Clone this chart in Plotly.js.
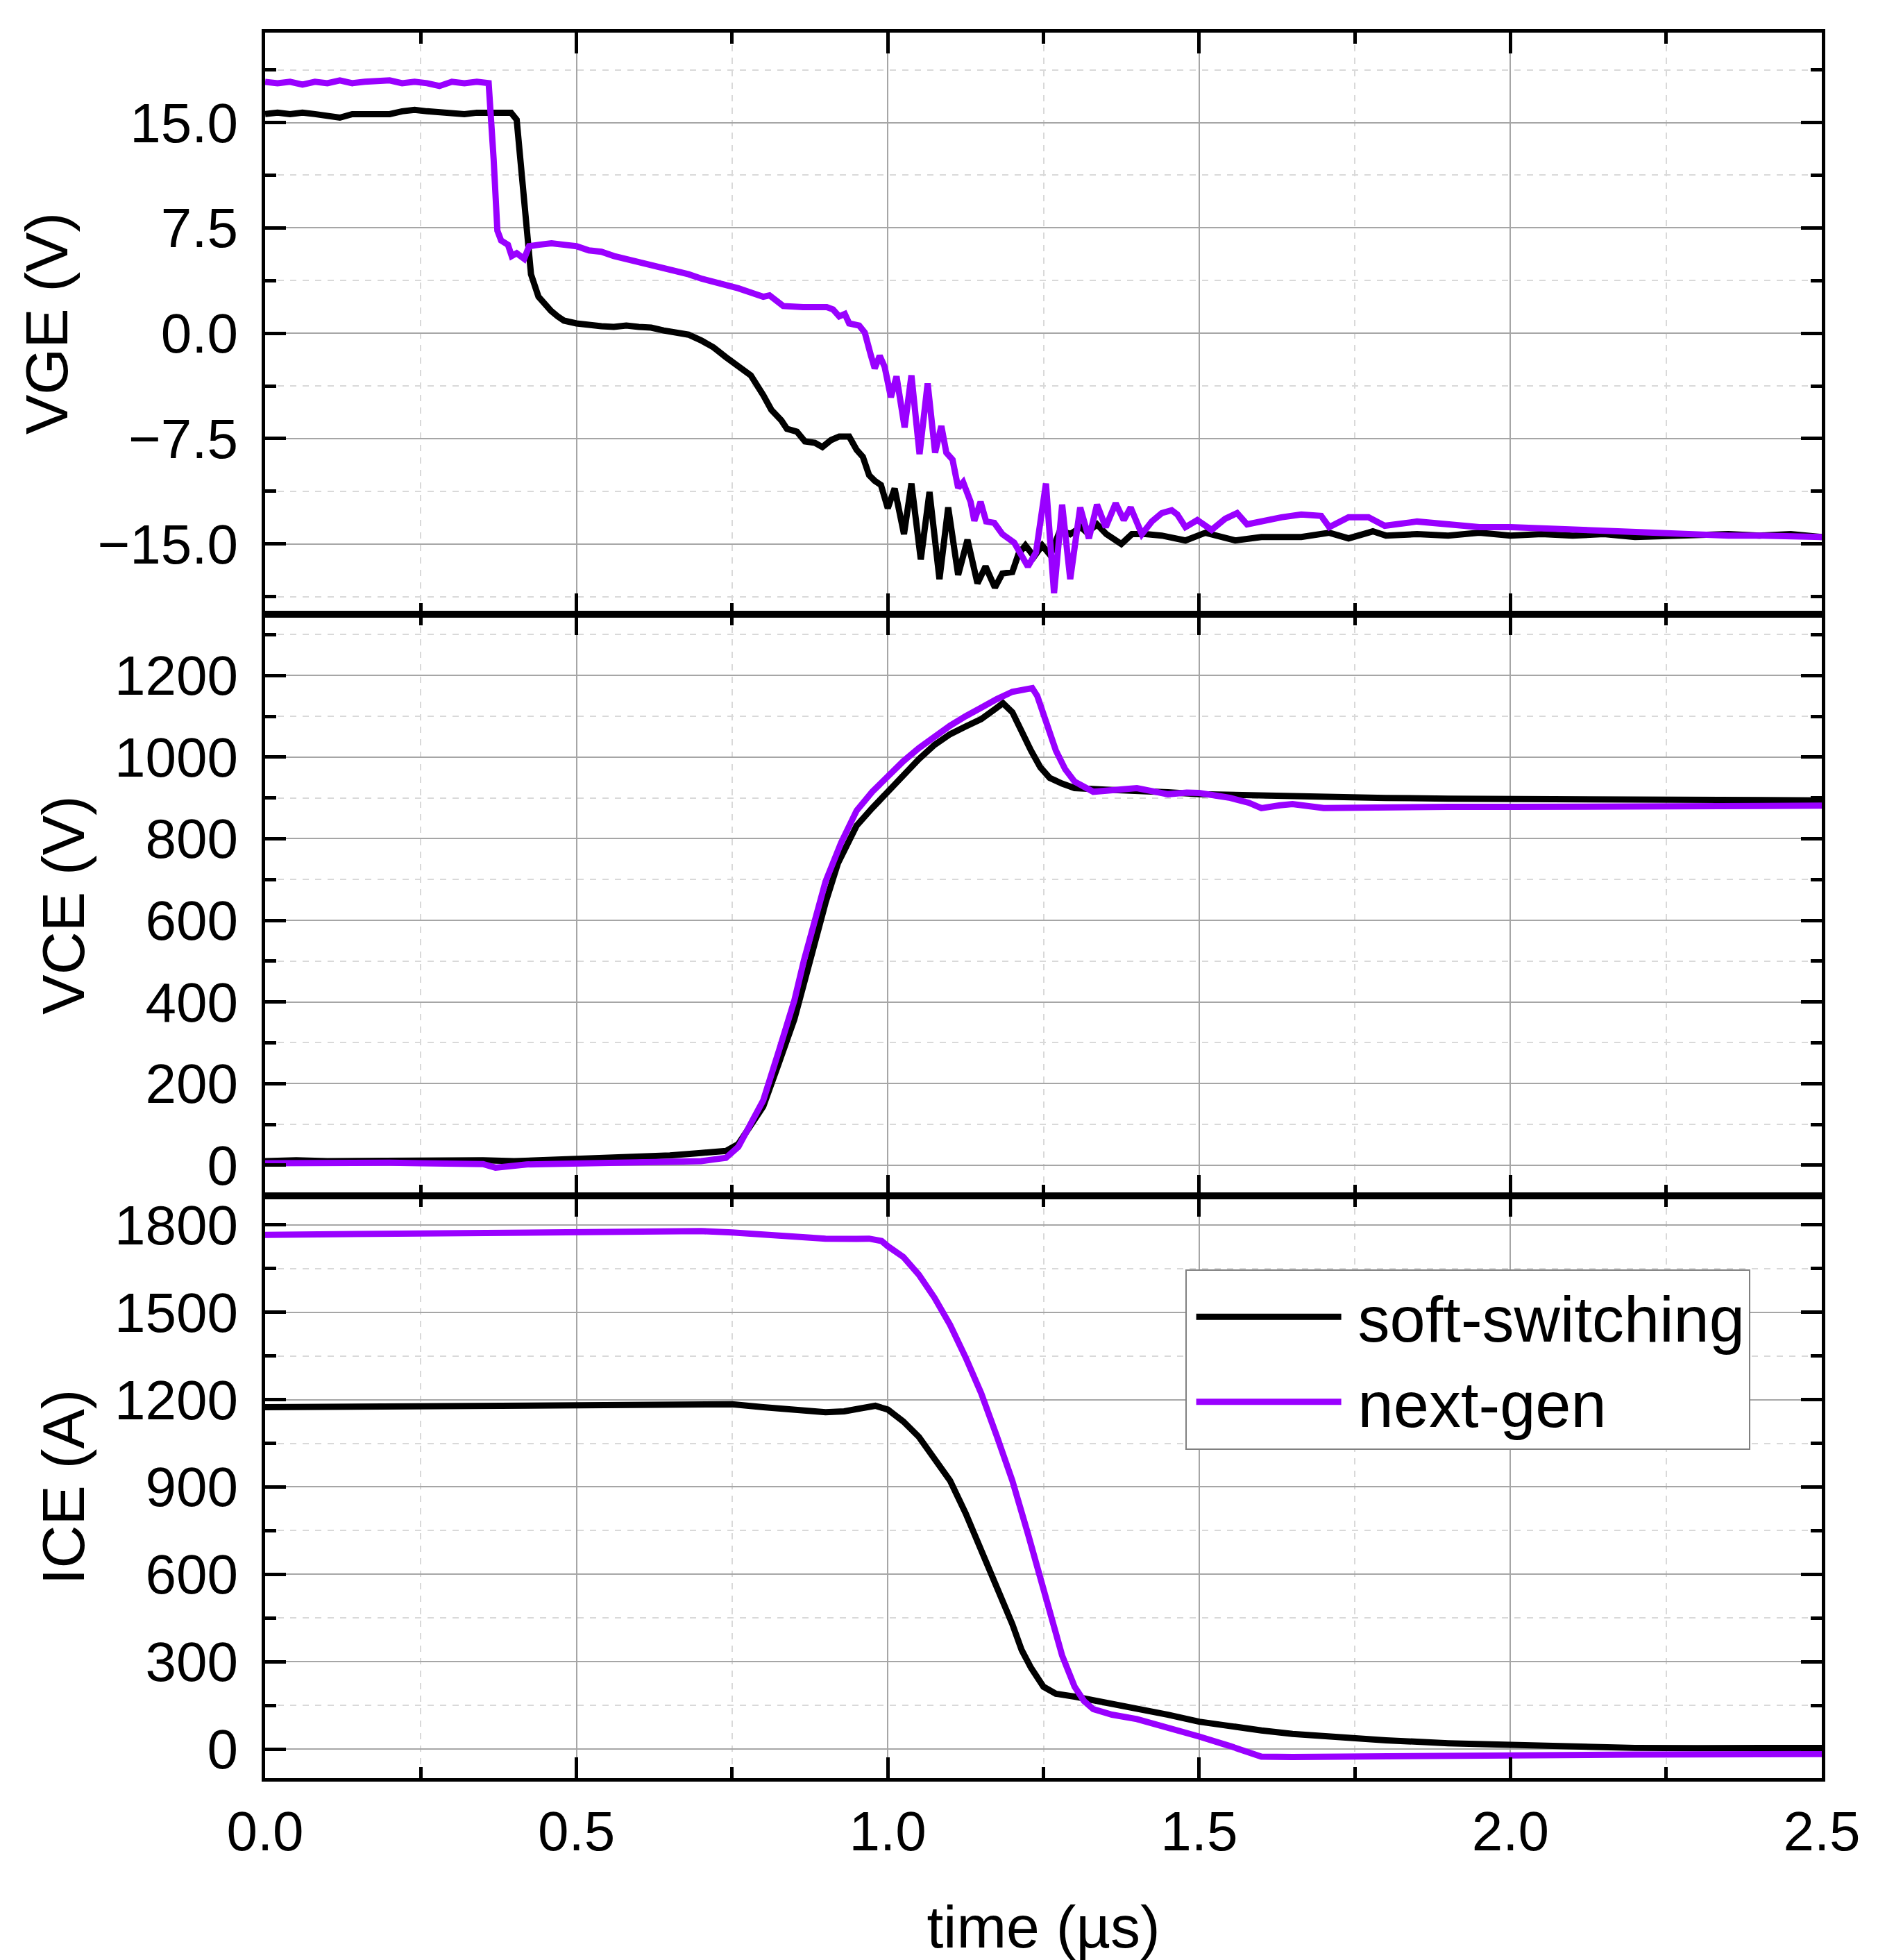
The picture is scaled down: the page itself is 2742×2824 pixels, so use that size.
<!DOCTYPE html>
<html>
<head>
<meta charset="utf-8">
<script src="https://cdn.plot.ly/plotly-3.0.1.min.js"></script>
<style>html,body{margin:0;padding:0;background:#fff;}</style>
</head>
<body>
<div id="chart" style="width:2742px;height:2824px;"></div>
<script>
// ---------- DATA ----------
const seriesNames = ["soft-switching", "next-gen"];

// VGE (V) - soft-switching
const tVgeSoft = [0.00,0.02,0.04,0.06,0.08,0.10,0.12,0.14,0.16,0.18,0.20,0.22,0.24,0.26,0.28,0.30,0.32,0.34,0.36,0.38,0.395,0.404,0.41,0.416,0.421,0.427,0.439,0.450,0.459,0.47,0.48,0.50,0.52,0.54,0.56,0.58,0.60,0.62,0.64,0.66,0.68,0.70,0.72,0.74,0.76,0.78,0.80,0.813,0.829,0.838,0.854,0.867,0.883,0.895,0.909,0.922,0.938,0.95,0.96,0.97,0.979,0.989,1.000,1.011,1.026,1.038,1.053,1.067,1.083,1.097,1.113,1.128,1.144,1.157,1.172,1.184,1.200,1.210,1.221,1.235,1.248,1.261,1.277,1.293,1.310,1.320,1.336,1.351,1.375,1.392,1.414,1.44,1.478,1.51,1.558,1.60,1.664,1.709,1.74,1.779,1.80,1.85,1.90,1.95,2.00,2.05,2.10,2.15,2.20,2.25,2.30,2.35,2.40,2.45,2.50];
const vgeSoft  = [15.6,15.7,15.6,15.7,15.6,15.5,15.35,15.6,15.6,15.7,15.6,15.8,15.9,15.8,15.7,15.6,15.6,15.7,15.7,15.8,15.7,15.2,12.4,9.0,6.2,4.2,2.6,2.0,1.6,1.2,0.9,0.7,0.55,0.5,0.45,0.55,0.45,0.4,0.2,0.1,-0.1,-0.5,-1.0,-1.7,-2.4,-3.0,-4.4,-5.45,-6.2,-6.8,-7.0,-7.7,-7.8,-8.1,-7.6,-7.35,-7.35,-8.3,-8.8,-10.1,-10.5,-10.8,-12.45,-11.05,-14.3,-10.7,-16.1,-11.3,-17.5,-12.4,-17.2,-14.7,-17.8,-16.6,-18.1,-17.1,-17.0,-15.7,-15.1,-15.9,-15.1,-15.8,-14.0,-14.3,-13.8,-14.2,-13.6,-14.3,-15.0,-14.3,-14.3,-14.4,-14.75,-14.2,-14.75,-14.5,-14.5,-14.2,-14.6,-14.1,-14.4,-14.3,-14.4,-14.2,-14.4,-14.3,-14.4,-14.3,-14.5,-14.4,-14.4,-14.3,-14.4,-14.3,-14.5];

// VGE (V) - next-gen
const tVgeNext = [0.00,0.02,0.04,0.06,0.08,0.10,0.12,0.14,0.16,0.18,0.20,0.22,0.24,0.26,0.28,0.30,0.32,0.34,0.355,0.359,0.367,0.373,0.379,0.39,0.396,0.404,0.416,0.424,0.44,0.46,0.48,0.50,0.52,0.54,0.56,0.58,0.60,0.62,0.64,0.66,0.68,0.70,0.72,0.74,0.76,0.78,0.80,0.81,0.832,0.864,0.902,0.912,0.922,0.931,0.938,0.954,0.963,0.973,0.979,0.987,0.995,1.005,1.014,1.027,1.038,1.051,1.064,1.076,1.086,1.094,1.104,1.113,1.121,1.133,1.139,1.149,1.158,1.171,1.184,1.203,1.216,1.225,1.238,1.254,1.267,1.280,1.293,1.309,1.323,1.336,1.350,1.366,1.379,1.390,1.408,1.424,1.440,1.456,1.465,1.478,1.497,1.520,1.542,1.561,1.577,1.606,1.632,1.664,1.696,1.709,1.740,1.772,1.798,1.85,1.90,1.95,2.00,2.05,2.10,2.15,2.20,2.25,2.30,2.35,2.40,2.45,2.50];
const vgeNext  = [17.9,17.8,17.9,17.7,17.9,17.8,18.0,17.8,17.9,17.9,18.0,17.8,17.9,17.8,17.6,17.9,17.8,17.9,17.9,17.8,12.4,7.3,6.6,6.3,5.5,5.7,5.3,6.2,6.3,6.4,6.3,6.2,5.9,5.8,5.5,5.3,5.0,4.9,4.6,4.5,4.2,3.9,3.7,3.5,3.2,2.9,2.6,2.7,1.94,1.86,1.86,1.7,1.2,1.37,0.7,0.55,0.05,-1.6,-2.5,-1.6,-2.4,-4.55,-3.07,-6.7,-3.0,-8.6,-3.57,-8.5,-6.6,-8.5,-9.0,-11.0,-10.6,-12.0,-13.35,-12.0,-13.4,-13.5,-14.3,-14.9,-15.8,-16.6,-15.6,-10.7,-18.5,-12.2,-17.5,-12.4,-14.6,-12.2,-13.8,-12.1,-13.3,-12.4,-14.3,-13.4,-12.8,-12.6,-12.9,-13.8,-13.3,-14.0,-13.2,-12.8,-13.6,-13.3,-13.1,-12.9,-13.0,-13.8,-13.1,-13.1,-13.7,-13.4,-13.6,-13.8,-13.8,-13.9,-14.0,-14.1,-14.1,-14.3,-14.3,-14.4,-14.4,-14.5,-14.5];

// VCE (V) - soft-switching
const tVceSoft = [0.00,0.05,0.10,0.15,0.20,0.25,0.30,0.35,0.40,0.45,0.50,0.55,0.60,0.65,0.70,0.72,0.74,0.76,0.78,0.80,0.825,0.85,0.875,0.90,0.92,0.95,0.975,1.00,1.025,1.05,1.075,1.10,1.125,1.15,1.17,1.185,1.20,1.215,1.23,1.245,1.26,1.28,1.30,1.35,1.40,1.45,1.50,1.55,1.60,1.70,1.80,1.90,2.00,2.10,2.20,2.30,2.40,2.50];
const vceSoft  = [10,12,10,11,12,10,11,12,10,13,15,17,20,24,30,32,35,52,95,144,250,358,500,643,740,832,875,915,960,995,1030,1056,1075,1093,1115,1132,1110,1060,1016,975,949,935,924,920,918,914,909,907,905,903,900,898,897,896,896,895,895,894];

// VCE (V) - next-gen
const tVceNext = [0.00,0.05,0.10,0.15,0.20,0.25,0.30,0.35,0.37,0.39,0.42,0.45,0.50,0.55,0.60,0.65,0.70,0.72,0.74,0.76,0.78,0.80,0.825,0.85,0.865,0.88,0.90,0.925,0.95,0.975,1.00,1.025,1.05,1.075,1.10,1.125,1.15,1.175,1.20,1.22,1.232,1.24,1.255,1.27,1.285,1.30,1.33,1.36,1.40,1.43,1.45,1.48,1.50,1.53,1.55,1.58,1.60,1.63,1.65,1.70,1.75,1.80,1.90,2.00,2.10,2.20,2.30,2.40,2.50];
const vceNext  = [5,6,4,5,6,5,4,3,-6,-2,2,3,4,5,6,7,10,14,18,45,100,159,280,404,500,588,695,790,869,915,955,990,1022,1050,1077,1100,1123,1142,1160,1166,1169,1150,1080,1016,970,940,915,918,924,915,909,913,912,905,900,888,875,882,885,875,876,878,878,878,879,880,880,881,881];

// ICE (A) - soft-switching
const tIceSoft = [0.00,0.10,0.20,0.30,0.40,0.50,0.60,0.70,0.75,0.80,0.85,0.90,0.93,0.96,0.98,1.00,1.025,1.05,1.075,1.10,1.125,1.15,1.175,1.20,1.215,1.23,1.25,1.27,1.30,1.35,1.40,1.45,1.50,1.55,1.60,1.65,1.70,1.75,1.80,1.90,2.00,2.10,2.20,2.30,2.40,2.50];
const iceSoft  = [1174,1176,1178,1180,1182,1183,1185,1187,1184,1174,1165,1157,1160,1172,1179,1166,1125,1072,1000,922,810,686,555,429,340,279,214,190,180,160,141,118,94,78,64,52,43,36,30,20,13,8,4,3,4,4];

// ICE (A) - next-gen
const tIceNext = [0.00,0.10,0.20,0.30,0.40,0.50,0.60,0.70,0.75,0.80,0.85,0.90,0.95,0.97,0.99,1.00,1.025,1.05,1.075,1.10,1.125,1.15,1.175,1.20,1.225,1.25,1.265,1.28,1.30,1.315,1.33,1.36,1.40,1.45,1.50,1.55,1.58,1.60,1.65,1.70,1.80,1.90,2.00,2.20,2.40,2.50];
const iceNext  = [1766,1768,1770,1771,1772,1774,1776,1779,1774,1766,1758,1753,1752,1753,1745,1727,1690,1629,1550,1457,1345,1222,1075,922,740,557,430,321,214,165,137,118,103,75,43,10,-15,-26,-27,-26,-25,-23,-21,-19,-18,-17];

// Tick labels / axis titles
const xTitle = "time (µs)";
const yTitles = ["VGE (V)", "VCE (V)", "ICE (A)"];

// ---------- STYLE ----------
const colSoft = "#000000";
const colNext = "#9900ff";
const lw = 9;
const FONT = "Liberation Sans, Arial, Helvetica, sans-serif";

function tr(x, y, name, color, xa, ya, show) {
  return {x: x, y: y, name: name, type: "scatter", mode: "lines",
          line: {color: color, width: lw}, xaxis: xa, yaxis: ya,
          showlegend: show, legendgroup: name};
}

const data = [
  tr(tVgeSoft, vgeSoft, seriesNames[0], colSoft, "x3", "y3", false),
  tr(tVgeNext, vgeNext, seriesNames[1], colNext, "x3", "y3", false),
  tr(tVceSoft, vceSoft, seriesNames[0], colSoft, "x2", "y2", false),
  tr(tVceNext, vceNext, seriesNames[1], colNext, "x2", "y2", false),
  tr(tIceSoft, iceSoft, seriesNames[0], colSoft, "x", "y", true),
  tr(tIceNext, iceNext, seriesNames[1], colNext, "x", "y", true)
];

const axBase = {
  showline: true, linewidth: 5, linecolor: "#000", mirror: "ticks",
  ticks: "inside", ticklen: 30, tickwidth: 5, tickcolor: "#000",
  showgrid: true, gridcolor: "#a6a6a6", gridwidth: 2, zeroline: false,
  tickfont: {family: FONT, size: 80, color: "#000"},
  minor: {ticks: "inside", ticklen: 16, tickwidth: 5, tickcolor: "#000",
          showgrid: true, gridcolor: "#d9d9d9", gridwidth: 2, griddash: "dash"}
};
function ax(extra) { return Object.assign(JSON.parse(JSON.stringify(axBase)), extra); }

const titleFont = {family: FONT, size: 86, color: "#000"};

const layout = {
  width: 2742, height: 2824,
  margin: {l: 382, r: 117, t: 47, b: 262, pad: 0},
  paper_bgcolor: "#fff", plot_bgcolor: "#fff",
  font: {family: FONT, size: 80, color: "#000"},
  showlegend: true,
  legend: {x: 0.591, y: 0.2915, xanchor: "left", yanchor: "top",
           bgcolor: "#fff", bordercolor: "#808080", borderwidth: 2,
           font: {family: FONT, size: 92, color: "#000"},
           itemwidth: 237, tracegroupgap: 0},
  xaxis:  ax({anchor: "y",  range: [0, 2.5], dtick: 0.5, tick0: 0, tickformat: ".1f",
              minor: Object.assign({}, axBase.minor, {dtick: 0.25}),
              ticklabelstandoff: 3,
              title: {text: xTitle, font: titleFont, standoff: 125}}),
  xaxis2: ax({anchor: "y2", matches: "x", range: [0, 2.5], dtick: 0.5, tick0: 0, showticklabels: false,
              minor: Object.assign({}, axBase.minor, {dtick: 0.25})}),
  xaxis3: ax({anchor: "y3", matches: "x", range: [0, 2.5], dtick: 0.5, tick0: 0, showticklabels: false,
              minor: Object.assign({}, axBase.minor, {dtick: 0.25})}),
  yaxis:  ax({domain: [0, 0.3336], anchor: "x", range: [-100, 1900], dtick: 300, tick0: 0,
              minor: Object.assign({}, axBase.minor, {dtick: 150}),
              ticklabelstandoff: 18,
              title: {text: yTitles[2], font: titleFont, standoff: 16}}),
  yaxis2: ax({domain: [0.3336, 0.6668], anchor: "x2", range: [-75, 1350], dtick: 200, tick0: 0,
              minor: Object.assign({}, axBase.minor, {dtick: 100}),
              ticklabelstandoff: 18,
              title: {text: yTitles[1], font: titleFont, standoff: 16}}),
  yaxis3: ax({domain: [0.6668, 1], anchor: "x3", range: [-20, 21.4], dtick: 7.5, tick0: 0, tickformat: ".1f",
              minor: Object.assign({}, axBase.minor, {dtick: 3.75}),
              ticklabelstandoff: 18,
              title: {text: yTitles[0], font: titleFont, standoff: 16}})
};

Plotly.newPlot("chart", data, layout, {staticPlot: true, displayModeBar: false}).then(function (gd) {
  // shorten legend sample lines so that they sit like the reference (gap before text)
  try {
    gd.querySelectorAll(".legend path.js-line").forEach(function (p) {
      var d = p.getAttribute("d") || "";
      var m = /M\s*([-\d.]+)\s*,\s*([-\d.]+)\s*h\s*([-\d.]+)/.exec(d);
      if (m) {
        var s = +m[1], y = +m[2], L = +m[3];
        p.setAttribute("d", "M" + (s + 9) + "," + y + "h" + (L - 28));
      }
    });
  } catch (e) {}
});
</script>
</body>
</html>
